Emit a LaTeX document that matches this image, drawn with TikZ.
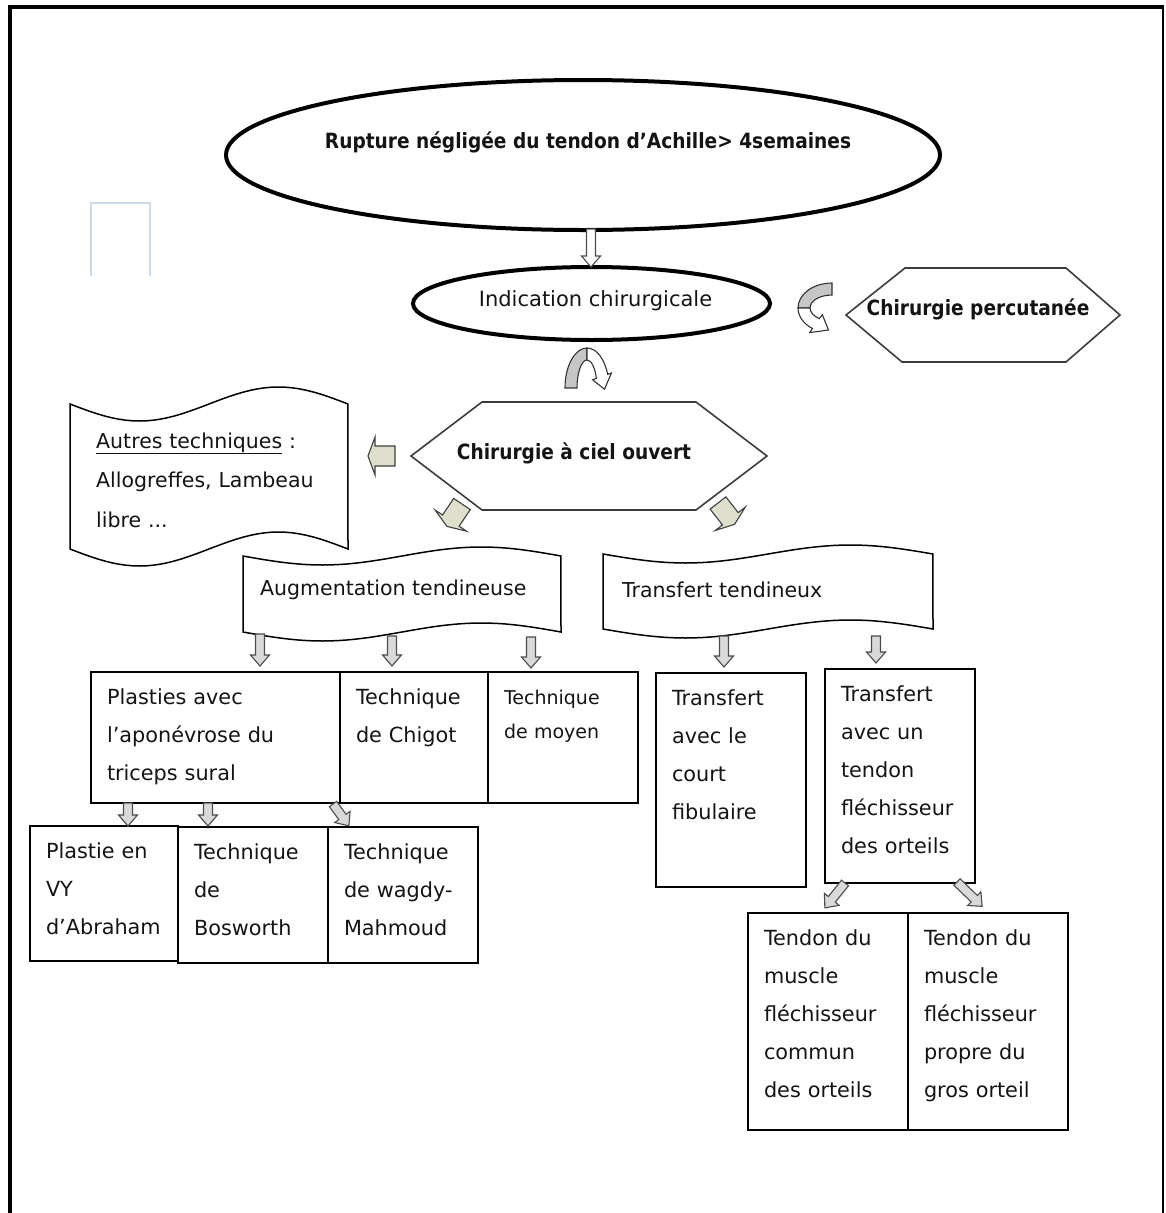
\documentclass[tikz,border=0pt]{standalone}
\usepackage{fontspec}
\setmainfont{DejaVu Sans}
\usetikzlibrary{shapes.geometric}

\definecolor{ink}{RGB}{20,20,20}
\definecolor{arrowgray}{RGB}{217,217,217}
\definecolor{arrowbeige}{RGB}{222,224,205}
\definecolor{curlgray}{RGB}{198,198,198}
\definecolor{hexgray}{RGB}{60,60,60}
\definecolor{ghostblue}{RGB}{205,218,232}

\newcommand\cellfont{\fontsize{20.8}{38}\selectfont}
\newcommand\smallcellfont{\fontsize{19}{34}\selectfont}
\newcommand\titlefont{\fontsize{21}{25}\selectfont\bfseries}
\newcommand\ovalfont{\fontsize{21}{25}\selectfont}
\newcommand\scrollfont{\fontsize{20.5}{39.5}\selectfont}
\newcommand\narrow[1]{\scalebox{0.885}[1]{#1}}
\hyphenpenalty=10000
\exhyphenpenalty=10000

% wavy banner: x left, x right, top line, bottom line, amplitude
\newcommand\scrollshape[5]{%
  \filldraw[scrollline] plot[domain=0:1,samples=41] ({#1+(#2-#1)*\x},{#3+#5*sin(360*\x)})
    -- plot[domain=1:0,samples=41] ({#1+(#2-#1)*\x},{#4+#5*sin(360*\x)}) -- cycle;}

\tikzset{
  oval/.style={draw, ellipse, line width=4pt, inner sep=0pt},
  cell/.style={draw, line width=1.6pt, anchor=north west, outer sep=0pt,
    inner xsep=16pt, inner ysep=17pt, text height=15pt, align=left,
    font=\cellfont, text=ink},
  scrolltext/.style={inner sep=0pt, align=left, font=\scrollfont, text=ink},
  hexline/.style={draw=hexgray, line width=1.6pt, fill=white},
  scrollline/.style={draw=black, line width=1.5pt, fill=white},
  hollow/.style={draw=black!70, line width=1.1pt, fill=arrowgray},
  curl/.style={draw=black!80, line width=1.1pt},
  thinarrow/.pic={\filldraw[hollow] (0,-4.5) -- (#1-11,-4.5) -- (#1-11,-9.5) -- (#1,0)
    -- (#1-11,9.5) -- (#1-11,4.5) -- (0,4.5) -- cycle;},
  fatarrow/.pic={\filldraw[draw=black!75, line width=1.1pt, fill=arrowbeige] (0,-10) -- (20,-10)
    -- (20,-19) -- (27,0) -- (20,19) -- (20,10) -- (0,10) -- cycle;},
}

\begin{document}
\begin{tikzpicture}[x=1pt, y=-1pt]
    \useasboundingbox (0,0) rectangle (1165,1213);

    % page frame
    \draw[line width=4pt] (10,1213) -- (10,7) -- (1164,7);
    \draw[line width=2pt] (1163,7) -- (1163,1213);
    \draw[ghostblue, line width=1.5pt] (91,276) -- (91,203) -- (150,203) -- (150,276);

    % top of the chart
    \node[oval, minimum width=714pt, minimum height=150pt] (rupture) at (583,155) {};
    \node[anchor=base, font=\titlefont, text=ink] (ruptureText) at (588,148)
        {\narrow{Rupture négligée du tendon d’Achille> 4semaines}};
    \node[oval, minimum width=357pt, minimum height=73pt] (indication) at (591.5,303.5) {};
    \node[anchor=base, font=\ovalfont, text=ink] (indicationText) at (595.5,306) {Indication chirurgicale};

    \draw[hexline] (846,315) -- (905,268) -- (1066,268) -- (1120,315) -- (1066,362) -- (902,362) -- cycle;
    \node[anchor=base, font=\titlefont, text=ink] (percutanee) at (978,315) {\narrow{Chirurgie percutanée}};

    \draw[hexline] (411,456) -- (482,402) -- (696,402) -- (767,456) -- (696,510) -- (482,510) -- cycle;
    \node[anchor=base, font=\titlefont, text=ink] (ouvert) at (574,459) {\narrow{Chirurgie à ciel ouvert}};

    % curled arrows
    \filldraw[curl, fill=curlgray] (832,283) arc[start angle=-90, end angle=-180, x radius=34, y radius=25]
        -- (810,308) arc[start angle=180, end angle=270, x radius=22, y radius=13] -- cycle;
    \filldraw[curl, fill=white] (798,308) arc[start angle=180, end angle=125, x radius=34, y radius=25]
        -- (809.7,332.6) -- (828.5,330) -- (822.3,314.6) -- (819.4,318.6)
        arc[start angle=125, end angle=180, x radius=22, y radius=13] -- cycle;
    \filldraw[curl, fill=curlgray] (565,388) arc[start angle=180, end angle=270, x radius=22, y radius=40]
        -- (587,360) arc[start angle=270, end angle=180, x radius=10, y radius=28] -- cycle;
    \filldraw[curl, fill=white] (587,348) arc[start angle=270, end angle=340, x radius=22, y radius=40]
        -- (611.4,373) -- (604.5,389.2) -- (592.6,379.8) -- (596.4,378.4)
        arc[start angle=340, end angle=270, x radius=10, y radius=28] -- cycle;

    % banners
    \scrollshape{70}{348}{404}{549}{17}
    \scrollshape{243}{561}{556}{632}{9}
    \scrollshape{603}{933}{554}{629}{9}
    \node[scrolltext, text width=245pt, anchor=base west] (autres) at (96,448)
        {\underline{Autres techniques} :\\Allogreffes, Lambeau\\libre ...};
    \node[scrolltext, anchor=base west] (augmentation) at (260,595) {Augmentation tendineuse};
    \node[scrolltext, anchor=base west] (transfert) at (622,597) {Transfert tendineux};

    % technique boxes
    \node[cell, text width=217pt, text depth=82pt] (plasties) at (91,672) {Plasties avec\\l’aponévrose du\\triceps sural};
    \node[cell, text width=116pt, text depth=82pt] (chigot) at (340,672) {Technique\\de Chigot};
    \node[cell, text width=118pt, text depth=82pt, font=\smallcellfont] (moyen) at (488,672) {Technique\\de moyen};
    \node[cell, text width=116pt, text depth=86pt] (abraham) at (30,826) {Plastie en\\VY\\d’Abraham};
    \node[cell, text width=118pt, text depth=87pt] (bosworth) at (178,827) {Technique\\de\\Bosworth};
    \node[cell, text width=118pt, text depth=87pt] (wagdy) at (328,827) {Technique\\de wagdy-\\Mahmoud};
    \node[cell, text width=118pt, text depth=165pt] (court) at (656,673) {Transfert\\avec le\\court\\fibulaire};
    \node[cell, text width=118pt, text depth=165pt] (flechisseur) at (825,669) {Transfert\\avec un\\tendon\\fléchisseur\\des orteils};
    \node[cell, text width=128pt, text depth=168pt] (commun) at (748,913) {Tendon du\\muscle\\fléchisseur\\commun\\des orteils};
    \node[cell, text width=128pt, text depth=168pt] (propre) at (908,913) {Tendon du\\muscle\\fléchisseur\\propre du\\gros orteil};

    % block arrows
    \pic[rotate=-90, hollow/.append style={fill=white}] at (591,229) {thinarrow=38};
    \pic[rotate=180] at (395,456) {fatarrow};
    \pic[rotate=236] at (462,504) {fatarrow};
    \pic[rotate=-52] at (718,503) {fatarrow};
    \pic[rotate=-90] at (260,634) {thinarrow=32};
    \pic[rotate=-90] at (392,636) {thinarrow=30};
    \pic[rotate=-90] at (531,637) {thinarrow=31};
    \pic[rotate=-90] at (724,636) {thinarrow=31};
    \pic[rotate=-90] at (876,636) {thinarrow=27};
    \pic[rotate=-90] at (128,803) {thinarrow=23};
    \pic[rotate=-90] at (208,803) {thinarrow=23};
    \pic[rotate=-54] at (333,804) {thinarrow=27};
    \pic[rotate=-129] at (845,883) {thinarrow=32};
    \pic[rotate=-44] at (957,882) {thinarrow=35};
\end{tikzpicture}
\end{document}
